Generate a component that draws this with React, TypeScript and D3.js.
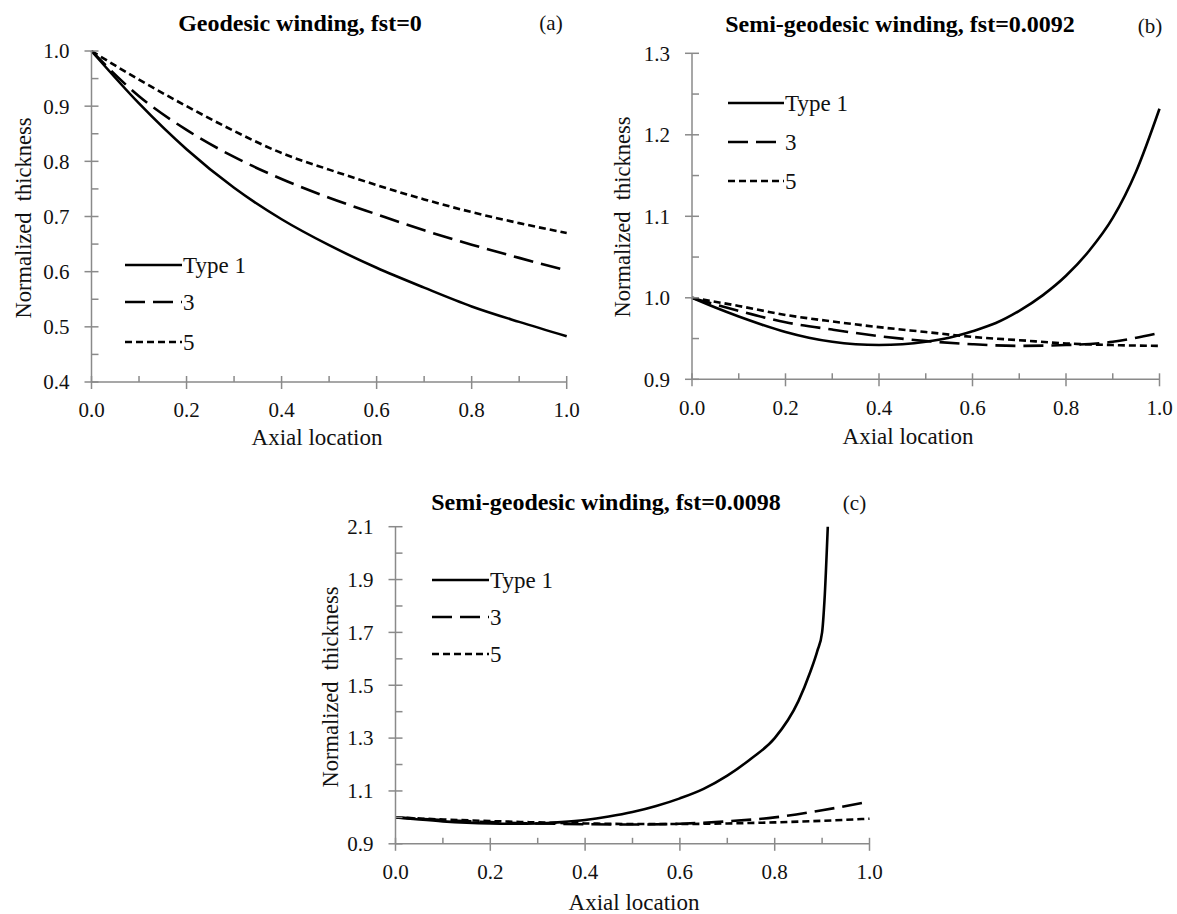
import React, { useEffect } from "react";
import * as d3 from "d3";

// ---------- DATA ----------
const seriesNames = ["Type 1", "3", "5"];

const xA = [0, 0.1, 0.2, 0.3, 0.4, 0.5, 0.6, 0.7, 0.8, 0.9, 1.0];
const aType1 = [1.0, 0.905, 0.822, 0.752, 0.695, 0.648, 0.607, 0.571, 0.537, 0.509, 0.483];
const aType3 = [1.0, 0.918, 0.857, 0.808, 0.768, 0.734, 0.704, 0.675, 0.649, 0.625, 0.602];
const aType5 = [1.0, 0.948, 0.9, 0.855, 0.815, 0.785, 0.757, 0.731, 0.708, 0.688, 0.67];

const xB = [0, 0.05, 0.1, 0.15, 0.2, 0.25, 0.3, 0.35, 0.4, 0.45, 0.5, 0.55, 0.6, 0.65, 0.7, 0.75, 0.8, 0.85, 0.9, 0.95, 1.0];
const bType1 = [1.0, 0.988, 0.977, 0.967, 0.958, 0.951, 0.946, 0.943, 0.942, 0.943, 0.946, 0.951, 0.959, 0.969, 0.984, 1.003, 1.027, 1.058, 1.098, 1.155, 1.232];
const xB2 = [0, 0.1, 0.2, 0.3, 0.4, 0.5, 0.6, 0.7, 0.8, 0.9, 1.0];
const bType3 = [1.0, 0.984, 0.97, 0.961, 0.953, 0.947, 0.943, 0.941, 0.942, 0.946, 0.957];
const bType5 = [1.0, 0.99, 0.979, 0.971, 0.964, 0.958, 0.952, 0.948, 0.944, 0.942, 0.941];

const xC1 = [0, 0.05, 0.1, 0.15, 0.2, 0.25, 0.3, 0.35, 0.4, 0.45, 0.5, 0.55, 0.6, 0.65, 0.7, 0.75, 0.8, 0.85, 0.875, 0.89, 0.9, 0.905, 0.912];
const cType1 = [1.0, 0.992, 0.985, 0.98, 0.977, 0.976, 0.977, 0.982, 0.99, 1.003, 1.02, 1.043, 1.072, 1.108, 1.158, 1.222, 1.3, 1.44, 1.55, 1.63, 1.7, 1.82, 2.1];
const xC = [0, 0.1, 0.2, 0.3, 0.4, 0.5, 0.6, 0.7, 0.8, 0.9, 1.0];
const cType3 = [1.0, 0.99, 0.982, 0.977, 0.974, 0.973, 0.976, 0.985, 1.0, 1.027, 1.06];
const cType5 = [1.0, 0.992, 0.986, 0.981, 0.977, 0.975, 0.975, 0.977, 0.981, 0.987, 0.995];

const xMajorTicks = [0, 0.2, 0.4, 0.6, 0.8, 1.0];
const xMinorTicks = [0.1, 0.3, 0.5, 0.7, 0.9];
const yTicksA = [0.4, 0.5, 0.6, 0.7, 0.8, 0.9, 1.0];
const yMinorA = [0.45, 0.55, 0.65, 0.75, 0.85, 0.95];
const yTicksB = [0.9, 1.0, 1.1, 1.2, 1.3];
const yMinorB = [0.95, 1.05, 1.15, 1.25];
const yTicksC = [0.9, 1.1, 1.3, 1.5, 1.7, 1.9, 2.1];
const yMinorC = [1.0, 1.2, 1.4, 1.6, 1.8, 2.0];

const titles = ["Geodesic winding, fst=0", "Semi-geodesic winding, fst=0.0092", "Semi-geodesic winding, fst=0.0098"];
const panelTags = ["(a)", "(b)", "(c)"];
const xTitle = "Axial location";
const yTitle = "Normalized  thickness";

// ---------- STYLE ----------
const FONT = "'Liberation Serif', 'Times New Roman', serif";
const AXIS = "#8a8a8a";
const dashes = [null, "20,8", "7,4"];

type Series = { x: number[]; y: number[] };
type PanelCfg = {
  x0: number; x1: number; yTop: number; yBot: number;
  yDomain: [number, number];
  yTicks: number[]; yMinor: number[];
  series: Series[];
  title: string; titleX: number; titleY: number;
  tag: string; tagX: number; tagY: number;
  yLabX: number; yLabY: number;
  xLabX: number; xLabY: number;
  legX0: number; legX1: number; legY: number[];
};

const panels: PanelCfg[] = [
  {
    x0: 91.5, x1: 566.7, yTop: 51, yBot: 382, yDomain: [0.4, 1.0],
    yTicks: yTicksA, yMinor: yMinorA,
    series: [{ x: xA, y: aType1 }, { x: xA, y: aType3 }, { x: xA, y: aType5 }],
    title: titles[0], titleX: 300, titleY: 31,
    tag: panelTags[0], tagX: 551, tagY: 23,
    yLabX: 23, yLabY: 218, xLabX: 317, xLabY: 437,
    legX0: 125, legX1: 182, legY: [265, 302, 342],
  },
  {
    x0: 692, x1: 1159.5, yTop: 53.3, yBot: 379.3, yDomain: [0.9, 1.3],
    yTicks: yTicksB, yMinor: yMinorB,
    series: [{ x: xB, y: bType1 }, { x: xB2, y: bType3 }, { x: xB2, y: bType5 }],
    title: titles[1], titleX: 900, titleY: 32,
    tag: panelTags[1], tagX: 1150, tagY: 26,
    yLabX: 622, yLabY: 217, xLabX: 908, xLabY: 436,
    legX0: 728, legX1: 784, legY: [103, 142, 181],
  },
  {
    x0: 395.5, x1: 869.5, yTop: 526.7, yBot: 843.8, yDomain: [0.9, 2.1],
    yTicks: yTicksC, yMinor: yMinorC,
    series: [{ x: xC1, y: cType1 }, { x: xC, y: cType3 }, { x: xC, y: cType5 }],
    title: titles[2], titleX: 606, titleY: 510,
    tag: panelTags[2], tagX: 854.5, tagY: 503,
    yLabX: 330, yLabY: 687, xLabX: 634, xLabY: 902,
    legX0: 432, legX1: 489, legY: [580, 617, 654],
  },
];

const fmt = d3.format(".1f");

function Panel({ p }: { p: PanelCfg }) {
  const xs = d3.scaleLinear().domain([0, 1]).range([p.x0, p.x1]);
  const ys = d3.scaleLinear().domain(p.yDomain).range([p.yBot, p.yTop]);
  return (
    <g>
      {p.series.map((s, i) => {
        const pts: [number, number][] = s.x.map((v, k) => [v, s.y[k]]);
        const line = d3.line<[number, number]>()
          .x((d) => xs(d[0]))
          .y((d) => ys(d[1]))
          .curve(d3.curveMonotoneX);
        return (
          <path key={i} d={line(pts) || ""} fill="none" stroke="#000"
            strokeWidth={2.6} strokeDasharray={dashes[i] || undefined} />
        );
      })}
      <line x1={p.x0} x2={p.x0} y1={p.yTop} y2={p.yBot} stroke={AXIS} strokeWidth={1.5} />
      <line x1={p.x0} x2={p.x1} y1={p.yBot} y2={p.yBot} stroke={AXIS} strokeWidth={1.5} />
      {p.yTicks.map((t) => (
        <g key={"yt" + t}>
          <line x1={p.x0 - 7} x2={p.x0 + 7} y1={ys(t)} y2={ys(t)} stroke={AXIS} strokeWidth={1.5} />
          <text x={p.x0 - 22} y={ys(t)} dy="0.35em" textAnchor="end" fontSize={21} fontFamily={FONT} fill="#111">{fmt(t)}</text>
        </g>
      ))}
      {p.yMinor.map((t) => (
        <line key={"ym" + t} x1={p.x0} x2={p.x0 + 7} y1={ys(t)} y2={ys(t)} stroke={AXIS} strokeWidth={1.5} />
      ))}
      {xMajorTicks.map((t) => (
        <g key={"xt" + t}>
          <line x1={xs(t)} x2={xs(t)} y1={p.yBot - 6} y2={p.yBot + 7} stroke={AXIS} strokeWidth={1.5} />
          <text x={xs(t)} y={p.yBot + 28} dy="0.35em" textAnchor="middle" fontSize={21} fontFamily={FONT} fill="#111">{fmt(t)}</text>
        </g>
      ))}
      {xMinorTicks.map((t) => (
        <line key={"xm" + t} x1={xs(t)} x2={xs(t)} y1={p.yBot - 6} y2={p.yBot} stroke={AXIS} strokeWidth={1.5} />
      ))}
      <text x={p.titleX} y={p.titleY} textAnchor="middle" fontSize={24} fontWeight="bold" fontFamily={FONT} fill="#000">{p.title}</text>
      <text x={p.tagX} y={p.tagY} dy="0.35em" textAnchor="middle" fontSize={21} fontFamily={FONT} fill="#111">{p.tag}</text>
      <text transform={`translate(${p.yLabX},${p.yLabY}) rotate(-90)`} dy="0.35em" textAnchor="middle" fontSize={22.5} fontFamily={FONT} fill="#111" style={{ whiteSpace: "pre" }}>{yTitle}</text>
      <text x={p.xLabX} y={p.xLabY} dy="0.35em" textAnchor="middle" fontSize={23} fontFamily={FONT} fill="#111">{xTitle}</text>
      {seriesNames.map((n, i) => (
        <g key={"lg" + i}>
          <line x1={p.legX0} x2={p.legX1} y1={p.legY[i]} y2={p.legY[i]} stroke="#000" strokeWidth={2.6}
            strokeDasharray={dashes[i] || undefined} />
          <text x={p.legX1 + 1} y={p.legY[i]} dy="0.35em" fontSize={23} fontFamily={FONT} fill="#111">{n}</text>
        </g>
      ))}
    </g>
  );
}

export default function App() {
  useEffect(() => {
    document.body.style.margin = "0";
  }, []);
  return (
    <svg width={1177} height={914} style={{ display: "block", background: "#fff" }}>
      <rect x={0} y={0} width={1177} height={914} fill="#fff" />
      {panels.map((p, i) => <Panel key={i} p={p} />)}
    </svg>
  );
}
